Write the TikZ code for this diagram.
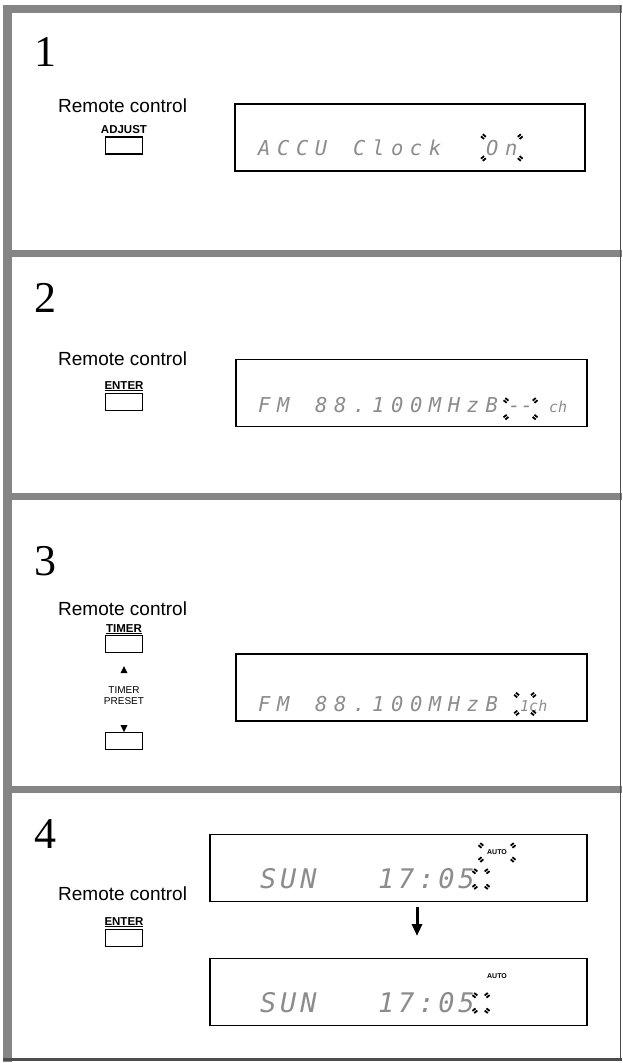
\documentclass[tikz,border=0pt]{standalone}
\usepackage{fontspec}
\usepackage{tikz}
\usetikzlibrary{arrows.meta, positioning, calc}
\setmainfont{Liberation Sans}
\newfontfamily\stepfont{Liberation Serif}
\newfontfamily\lcdfont{DejaVu Sans Mono}[LetterSpace=32]
\newfontfamily\lcdbigfont{DejaVu Sans Mono}[LetterSpace=14]
\newfontfamily\lcdsmallfont{DejaVu Sans Mono}
\definecolor{bargray}{gray}{0.52}
\definecolor{lcdgray}{gray}{0.55}
\newcommand{\blink}[3]{%
  \foreach \a in {40,140,220,320}
    \foreach \o in {-1.4,1.4}
      \draw[blinkmark] ($(#1)+(\a:#2 and #3)+(\a+90:\o)$) -- ++(\a:4);}

\begin{document}
\begin{tikzpicture}[x=1pt, y=-1pt, >=Stealth,
  grayband/.style={fill=bargray},
  remote/.style={font=\fontsize{19}{21}\selectfont, anchor=base west, inner sep=0pt},
  keyname/.style={font=\bfseries\fontsize{11.5}{13}\selectfont, anchor=base, inner sep=0pt},
  keylabel/.style={font=\fontsize{10}{11}\selectfont, anchor=base, inner sep=0pt},
  keybox/.style={draw, line width=1.6pt, minimum width=37pt, minimum height=17pt, inner sep=0pt},
  display/.style={draw, line width=1.1pt, minimum height=67pt, inner sep=0pt},
  lcd/.style={font=\lcdfont\itshape\fontsize{20.5}{22}\selectfont, text=lcdgray, anchor=base west, inner sep=0pt},
  lcdbig/.style={lcd, font=\lcdbigfont\itshape\fontsize{27}{29}\selectfont},
  lcdtight/.style={lcd, font=\lcdsmallfont\itshape\fontsize{20.5}{22}\selectfont},
  lcdsmall/.style={lcd, font=\lcdsmallfont\itshape\fontsize{15}{16}\selectfont},
  autotag/.style={font=\bfseries\fontsize{7}{8}\selectfont, inner sep=0pt},
  stepnum/.style={font=\stepfont\fontsize{44}{46}\selectfont, anchor=base west, inner sep=0pt},
  blinkmark/.style={line width=1.8pt},
  tri/.style={fill=black}]
  \useasboundingbox (0,0) rectangle (622,1063);

  % Frame
  \fill[grayband] (3,5) rectangle (622,13);
  \fill[grayband] (3,5) rectangle (12,1062);
  \fill[grayband] (3,250) rectangle (622,257);
  \fill[grayband] (3,493) rectangle (622,500);
  \fill[grayband] (3,786) rectangle (622,793);
  \fill[black!70] (3,1058) rectangle (622,1061);
  \draw[line width=1.5pt, black!70] (620.5,5) -- (620.5,1061);

  % Step 1
  \node[stepnum] (n1) at (34,66) {1};
  \node[remote] (rc1) at (58,112) {Remote control};
  \node[keyname] (adj1) at (124,133) {ADJUST};
  \node[keybox] (adjbtn1) at (124,145.5) {};
  \node[display, minimum width=350pt] (disp1) at (410,137.5) {};
  \node[lcd] at (258,155) {ACCU};
  \node[lcd] at (353,155) {Clock};
  \node[lcd] (on1) at (486,155) {On};
  \blink{on1}{22}{15}

  % Step 2
  \node[stepnum] (n2) at (34,312) {2};
  \node[remote] (rc2) at (58,365) {Remote control};
  \node[keyname] (ent2) at (124,389) {\underline{ENTER}};
  \node[keybox] (entbtn2) at (124,402) {};
  \node[display, minimum width=351pt] (disp2) at (411.5,393) {};
  \node[lcd] at (258,412) {FM};
  \node[lcd] at (315,412) {88.};
  \node[lcd] at (372,412) {100MHzB};
  \node[lcdtight] (chan2) at (508,412) {-{}-};
  \node[lcdsmall] at (549,412) {ch};
  \blink{chan2}{17}{11}

  % Step 3
  \node[stepnum] (n3) at (34,575) {3};
  \node[remote] (rc3) at (58,615) {Remote control};
  \node[keyname] (tim3) at (124,632) {\underline{TIMER}};
  \node[keybox] (upbtn3) at (124,644) {};
  \fill[tri] (120.5,673) -- (127.5,673) -- (124,666) -- cycle;
  \node[keylabel] (tp3) at (124,693) {TIMER};
  \node[keylabel] (pr3) at (124,704) {PRESET};
  \fill[tri] (120.5,725) -- (127.5,725) -- (124,732) -- cycle;
  \node[keybox] (downbtn3) at (124,741) {};
  \node[display, minimum width=351pt] (disp3) at (411.5,687.5) {};
  \node[lcd] at (258,711) {FM};
  \node[lcd] at (315,711) {88.};
  \node[lcd] at (372,711) {100MHzB};
  \node[lcdsmall] (chan3) at (520,711) {1ch};
  \coordinate (one3) at (525,704);
  \blink{one3}{9}{12}

  % Step 4
  \node[stepnum] (n4) at (34,848) {4};
  \node[remote] (rc4) at (58,900) {Remote control};
  \node[keyname] (ent4) at (124,925) {\underline{ENTER}};
  \node[keybox] (entbtn4) at (124,938) {};
  \node[display, minimum width=377pt] (disp4a) at (398.5,868) {};
  \node[lcdbig] at (260,888) {SUN};
  \node[lcdbig] at (378,888) {17:05};
  \node[autotag] (auto4a) at (497,852.5) {AUTO};
  \blink{auto4a}{19}{9}
  \coordinate (sec4a) at (481,879);
  \blink{sec4a}{6}{10}
  \coordinate (arr4top) at (417,907);
  \coordinate (arr4bot) at (417,936);
  \draw[-{Triangle[length=12pt,width=10pt]}, line width=3pt] (arr4top) -- (arr4bot);
  \node[display, minimum width=377pt] (disp4b) at (398.5,992) {};
  \node[lcdbig] at (260,1012) {SUN};
  \node[lcdbig] at (378,1012) {17:05};
  \node[autotag] (auto4b) at (497,976) {AUTO};
  \coordinate (sec4b) at (481,1003);
  \blink{sec4b}{6}{10}
\end{tikzpicture}
\end{document}
